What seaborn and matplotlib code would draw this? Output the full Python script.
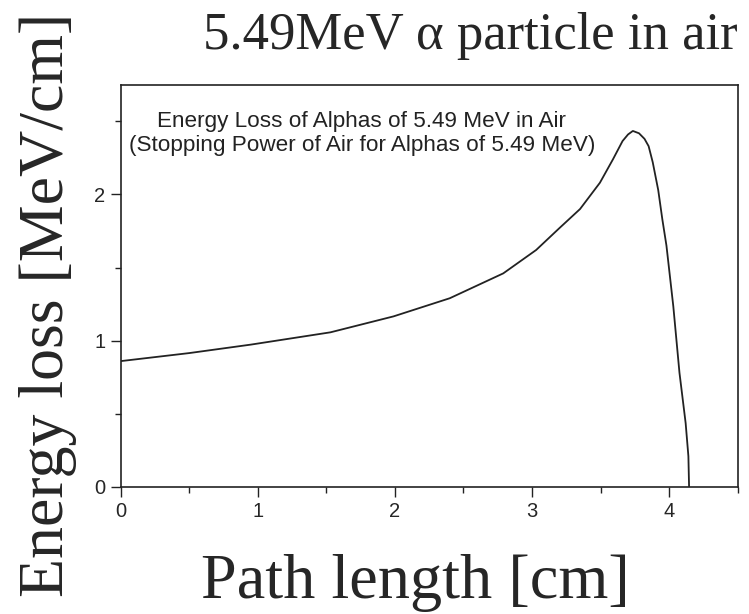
import matplotlib
matplotlib.use("Agg")
import matplotlib.pyplot as plt
import seaborn as sns
import pandas as pd
from matplotlib.ticker import MultipleLocator

# Data
path_cm = [0.0, 0.5, 0.95, 1.53, 1.99, 2.40, 2.79, 3.03, 3.20, 3.35, 3.495, 3.59,
           3.66, 3.70, 3.735, 3.78, 3.82, 3.85, 3.88, 3.92, 3.95, 3.98, 4.03,
           4.075, 4.12, 4.14, 4.145]
energy_loss = [0.86, 0.915, 0.973, 1.057, 1.166, 1.29, 1.46, 1.62, 1.77, 1.90, 2.08, 2.24,
               2.365, 2.41, 2.434, 2.418, 2.38, 2.33, 2.22, 2.03, 1.83, 1.65, 1.235,
               0.78, 0.436, 0.21, 0.0]

x_ticks = [0, 1, 2, 3, 4]
y_ticks = [0, 1, 2]

title_text = "5.49MeV \u03b1 particle in air"
xlabel_text = "Path length [cm]"
ylabel_text = "Energy loss [MeV/cm]"
note_text = ("Energy Loss of Alphas of 5.49 MeV in Air\n"
             "(Stopping Power of Air for Alphas of 5.49 MeV)")

df = pd.DataFrame({"path": path_cm, "loss": energy_loss})

sns.set_style("ticks")
plt.rcParams["font.family"] = ["Liberation Sans", "DejaVu Sans"]

fig = plt.figure(figsize=(7.49, 6.14), dpi=100)
ax = fig.add_axes([0.161, 0.207, 0.824, 0.655])

sns.lineplot(data=df, x="path", y="loss", ax=ax, color="#222222", linewidth=1.3,
             sort=False, estimator=None)

ax.set_xlim(0, 4.5)
ax.set_ylim(0, 2.75)
ax.set_xticks(x_ticks)
ax.set_yticks(y_ticks)
ax.xaxis.set_minor_locator(MultipleLocator(0.5))
ax.yaxis.set_minor_locator(MultipleLocator(0.5))
ax.tick_params(which="major", length=7, width=1.0, labelsize=14.5, pad=4, color="#222222")
ax.tick_params(which="minor", length=4, width=1.0, color="#222222")
for s in ax.spines.values():
    s.set_linewidth(1.2)
    s.set_color("#222222")
    s.set_visible(True)
ax.set_xlabel("")
ax.set_ylabel("")

ax.text(0.391, 0.935, note_text, transform=ax.transAxes, ha="center", va="top",
        fontsize=16.2, linespacing=1.2, color="#222222")

serif = ["Liberation Serif", "DejaVu Serif"]
fig.text(0.985, 0.921, title_text, ha="right", va="baseline", fontsize=38, family=serif)
fig.text(0.555, 0.026, xlabel_text, ha="center", va="baseline", fontsize=46.3, family=serif)
fig.text(0.026, 0.503, ylabel_text, ha="left", va="center", rotation=90, fontsize=46, family=serif)

fig.savefig("out.png", dpi=100)
